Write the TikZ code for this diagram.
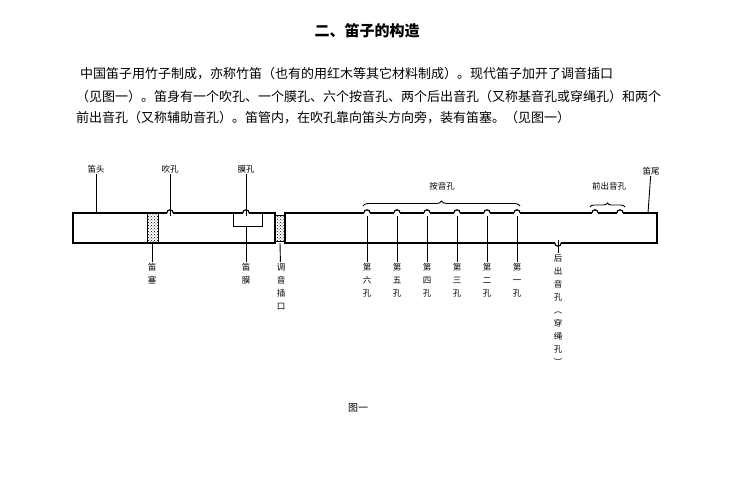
\documentclass[tikz,border=0pt]{standalone}
\usepackage{fontspec}
\setmainfont{Noto Sans CJK SC}
\usetikzlibrary{decorations.pathreplacing,patterns}
\begin{document}
\begin{tikzpicture}[x=1pt,y=-1pt,
  body/.style={line width=1.6pt},
  lead/.style={line width=0.9pt},
  lbl/.style={font=\fontsize{8.5}{9.5}\selectfont, align=center, inner sep=1pt},
  vlbl/.style={font=\fontsize{8.5}{13}\selectfont, align=center, inner sep=1pt, anchor=north},
  para/.style={font=\fontsize{13}{13}\selectfont, anchor=west, inner sep=0pt}]
\useasboundingbox (0,0) rectangle (750,500);
\node[font=\fontsize{15}{15}\selectfont\bfseries] (title) at (367,31) {二、笛子的构造};
\node[para] (p1) at (80,74) {中国笛子用竹子制成，亦称竹笛（也有的用红木等其它材料制成）。现代笛子加开了调音插口};
\node[para] (p2) at (76,97) {（见图一）。笛身有一个吹孔、一个膜孔、六个按音孔、两个后出音孔（又称基音孔或穿绳孔）和两个};
\node[para] (p3) at (76,118) {前出音孔（又称辅助音孔）。笛管内，在吹孔靠向笛头方向旁，装有笛塞。（见图一）};
% flute body
\draw[body] (73,213) rectangle (275,243);
\draw[body] (285,213) -- (657,213) -- (657,243) -- (285,243) -- cycle;
\draw[line width=1pt] (275,215) -- (285,215) (275,241) -- (285,241);
\fill[pattern=crosshatch dots] (276.5,216) rectangle (283.5,240);
\fill[pattern=crosshatch dots] (147,214) rectangle (158,242);
\draw[line width=0.6pt] (147,213) -- (147,243) (158,213) -- (158,243);
\draw[line width=0.9pt] (233,213) rectangle (262,226);
% holes on top
\foreach \n/\x in {chui/170,mo/246,h6/367,h5/397,h4/427,h3/457,h2/487,h1/517,q1/595,q2/620}{
  \fill[white] (\x,213) circle (3.2);
  \draw[line width=1.2pt] (\x-3.2,213) arc (180:0:3.2 and -3.2);
  \coordinate (\n) at (\x,216);
}
\fill[white] (558,243) circle (3.2);
\draw[line width=1.2pt] (554.8,243) arc (180:360:3.2 and -3.2);
\coordinate (hou) at (558,240);
\coordinate (tou) at (96,213);
\coordinate (wei) at (648,213);
\coordinate (sai) at (152,243);
\coordinate (mobox) at (246,226);
\coordinate (tiao) at (280,243);
% top labels
\node[lbl] (Ltou) at (96,169) {笛头};
\node[lbl] (Lchui) at (170,169) {吹孔};
\node[lbl] (Lmo) at (246,169) {膜孔};
\node[lbl] (Lan) at (442,186) {按音孔};
\node[lbl] (Lqian) at (609,186) {前出音孔};
\node[lbl] (Lwei) at (651,171) {笛尾};
\draw[lead] (Ltou) -- (tou);
\draw[lead] (Lchui) -- (chui);
\draw[lead] (Lmo) -- (mo);
\draw[lead] (Lwei) -- (wei);
\draw[line width=0.9pt, decorate, decoration={brace, amplitude=5pt}] (363,206) -- (520,206);
\draw[line width=0.9pt, decorate, decoration={brace, amplitude=4pt}] (590,207) -- (625,207);
% bottom labels
\node[vlbl] (Lsai) at (152,262) {笛\\塞};
\node[vlbl] (Lmomo) at (246,262) {笛\\膜};
\node[vlbl] (Ltiao) at (281,262) {调\\音\\插\\口};
\draw[lead] (Lsai) -- (sai);
\draw[lead] (Lmomo) -- (mobox);
\draw[lead] (Ltiao) -- (tiao);
\foreach \n/\x/\t in {h6/367/六,h5/397/五,h4/427/四,h3/457/三,h2/487/二,h1/517/一}{
  \node[vlbl] (L\n) at (\x,262) {第\\\t\\孔};
  \draw[lead] (L\n) -- (\n);
}
\node[vlbl] (Lhou) at (558,253) {后\\出\\音\\孔\\︵\\穿\\绳\\孔\\︶};
\draw[lead] (Lhou) -- (hou);
\node[font=\fontsize{10}{10}\selectfont] (cap) at (358,408) {图一};
\end{tikzpicture}
\end{document}
